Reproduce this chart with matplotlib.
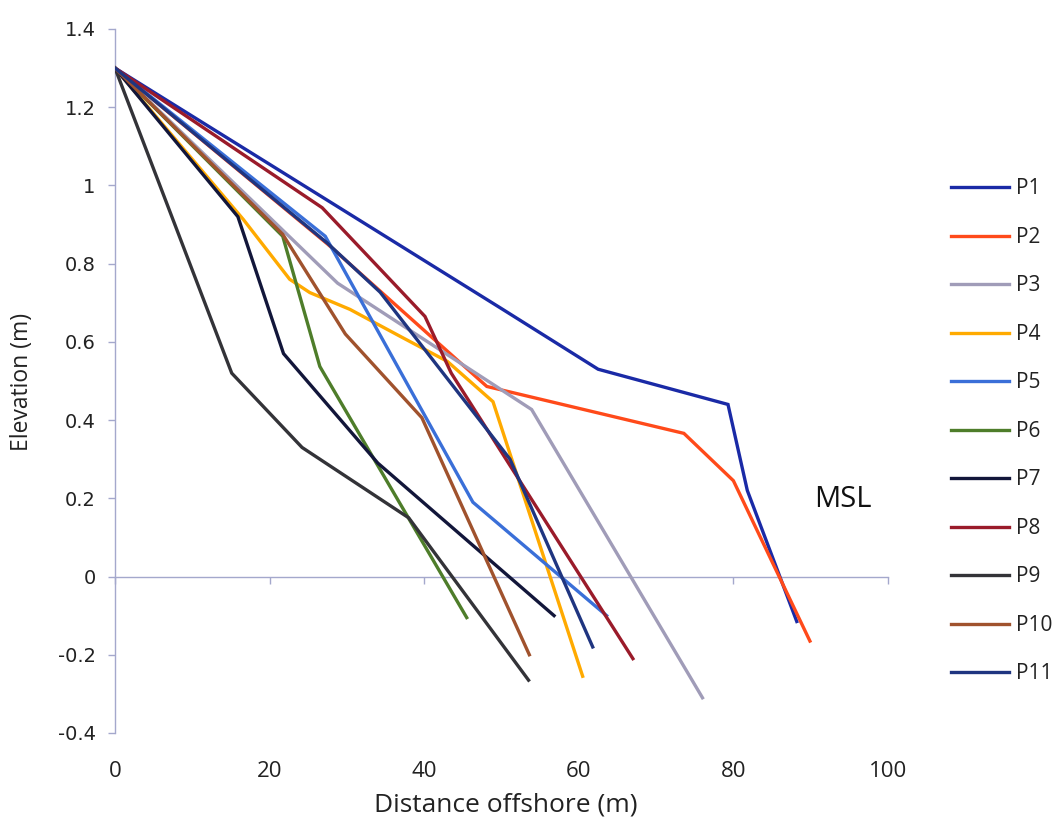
import matplotlib
matplotlib.use("Agg")
import matplotlib.pyplot as plt

# ---- data (distance offshore m, elevation m) ----
p1_x = [0, 50, 62.5, 79.3, 81.8, 88.2]
p1_y = [1.30, 0.685, 0.53, 0.44, 0.22, -0.115]
p2_x = [0, 27.5, 48.1, 73.6, 80, 89.9]
p2_y = [1.30, 0.85, 0.486, 0.366, 0.245, -0.165]
p3_x = [0, 28.8, 53.9, 76.0]
p3_y = [1.30, 0.75, 0.427, -0.31]
p4_x = [0, 16.6, 22.6, 25.2, 30.4, 36.9, 43, 48.9, 60.5]
p4_y = [1.30, 0.913, 0.76, 0.726, 0.683, 0.614, 0.55, 0.447, -0.255]
p5_x = [0, 27.2, 46.3, 63.6]
p5_y = [1.30, 0.87, 0.19, -0.10]
p6_x = [0, 21.7, 26.5, 45.5]
p6_y = [1.30, 0.87, 0.537, -0.105]
p7_x = [0, 15.9, 21.8, 34.0, 56.8]
p7_y = [1.30, 0.92, 0.57, 0.29, -0.10]
p8_x = [0, 26.8, 40.1, 43.5, 67.0]
p8_y = [1.30, 0.943, 0.665, 0.52, -0.21]
p9_x = [0, 15.1, 24.2, 38.0, 53.5]
p9_y = [1.30, 0.52, 0.33, 0.15, -0.265]
p10_x = [0, 21.7, 29.8, 39.7, 53.6]
p10_y = [1.30, 0.875, 0.62, 0.406, -0.20]
p11_x = [0, 27.5, 34.3, 51.1, 61.8]
p11_y = [1.30, 0.852, 0.727, 0.30, -0.18]

names = ["P1", "P2", "P3", "P4", "P5", "P6", "P7", "P8", "P9", "P10", "P11"]
xs = [p1_x, p2_x, p3_x, p4_x, p5_x, p6_x, p7_x, p8_x, p9_x, p10_x, p11_x]
ys = [p1_y, p2_y, p3_y, p4_y, p5_y, p6_y, p7_y, p8_y, p9_y, p10_y, p11_y]
colors = ["#1A2AA6", "#FF4A1A", "#A09CB8", "#FFAA00", "#3A6FD8", "#4E7D2A",
          "#12163A", "#9A1B2A", "#333338", "#A0522D", "#1F3580"]

x_ticks = [0, 20, 40, 60, 80, 100]
y_ticks = [-0.4, -0.2, 0, 0.2, 0.4, 0.6, 0.8, 1.0, 1.2, 1.4]
y_labels = ["-0.4", "-0.2", "0", "0.2", "0.4", "0.6", "0.8", "1", "1.2", "1.4"]

axis_col = "#A4A8CC"
txt_col = "#222222"

fig = plt.figure(figsize=(10.55, 8.23), dpi=100)
ax = fig.add_axes([0.109, 0.1094, 0.7327, 0.8554])

# Excel order: later series drawn on top
for i in range(len(names)):
    ax.plot(xs[i], ys[i], color=colors[i], lw=2.4, label=names[i],
            solid_joinstyle="miter", zorder=3 + i * 0.01)

ax.set_xlim(0, 100)
ax.set_ylim(-0.4, 1.4)

for s in ["top", "right"]:
    ax.spines[s].set_visible(False)
ax.spines["left"].set_color(axis_col)
ax.spines["left"].set_linewidth(1.0)
ax.spines["bottom"].set_position(("data", 0))
ax.spines["bottom"].set_color(axis_col)
ax.spines["bottom"].set_linewidth(1.0)

ax.set_yticks(y_ticks)
ax.set_yticklabels(y_labels, family="DejaVu Sans", fontsize=14, color=txt_col)
ax.tick_params(axis="y", direction="out", length=5, width=1, color=axis_col, pad=9)
ax.set_xticks(x_ticks)
ax.tick_params(axis="x", direction="out", length=5, width=1, color=axis_col,
               labelbottom=False)

# x tick labels below plot area
sec = ax.secondary_xaxis(0)
sec.set_xticks(x_ticks)
sec.set_xticklabels([str(v) for v in x_ticks], family="Open Sans", fontsize=16, color=txt_col)
sec.spines["bottom"].set_visible(False)
sec.tick_params(axis="x", length=0, pad=20)

fig.text(0.021, 0.536, "Elevation (m)", family="Open Sans", fontsize=16.5,
         color=txt_col, rotation=90, ha="center", va="center")
fig.text(0.479, 0.022, "Distance offshore (m)", family="Open Sans", fontsize=19,
         color=txt_col, ha="center", va="center")

ax.text(94.2, 0.197, "MSL", family="Open Sans", fontsize=21, color="#111111",
        ha="center", va="center")

handles, labels = ax.get_legend_handles_labels()
leg = fig.legend(handles, labels, loc="center left", bbox_to_anchor=(0.9015, 0.4757),
                 frameon=False, prop={"family": "Open Sans", "size": 15},
                 handlelength=2.8, handletextpad=0.3, labelspacing=1.32,
                 borderaxespad=0, borderpad=0)
for t in leg.get_texts():
    t.set_color(txt_col)

fig.savefig("out.png", dpi=100)
